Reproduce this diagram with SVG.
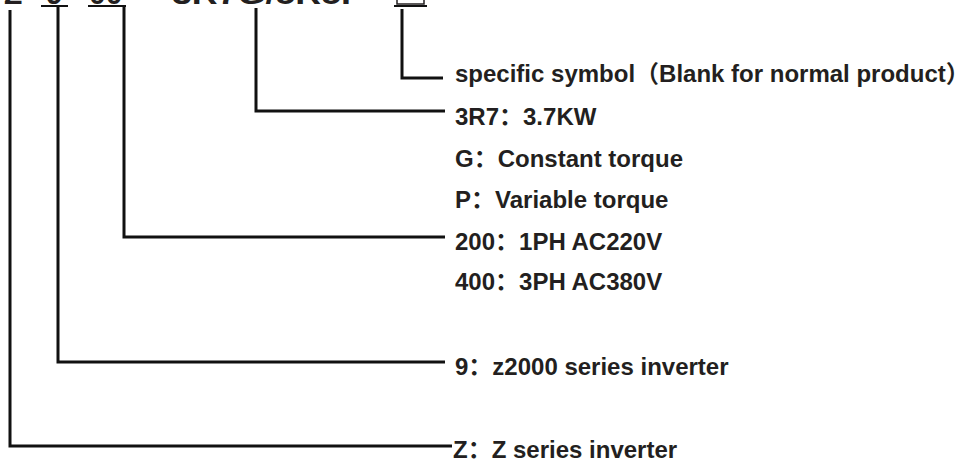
<svg xmlns="http://www.w3.org/2000/svg" width="969" height="463" viewBox="0 0 969 463">
<style>
.lbl{font-family:"Liberation Sans","Noto Sans CJK SC",Arial,sans-serif;font-weight:bold;font-size:24px;fill:#231f20}
.code{font-family:"Liberation Sans","Noto Sans CJK SC",Arial,sans-serif;font-weight:bold;font-size:30px;fill:#231f20}
.con{fill:none;stroke:#111;stroke-width:3;stroke-linejoin:miter}
.ul{stroke:#111;stroke-width:2}
</style>
<rect width="969" height="463" fill="#fff"/>
<g id="code">
  <g id="code-z"><text class="code" x="4" y="4">Z</text></g>
  <g id="code-9"><text class="code" x="46" y="4">9</text><line class="ul" x1="41" y1="6" x2="68" y2="6"/></g>
  <g id="code-00"><text class="code" x="89" y="4">00</text><line class="ul" x1="88" y1="6" x2="126" y2="6"/></g>
  <g id="code-power"><text class="code" x="160" y="4" textLength="205" lengthAdjust="spacingAndGlyphs">-3R7G/5R5P</text></g>
  <g id="code-special"><rect x="397" y="-20" width="27" height="24" fill="none" stroke="#231f20" stroke-width="1.5"/><line class="ul" x1="394" y1="6" x2="427" y2="6"/></g>
</g>
<g id="connectors">
  <path class="con" d="M402,9 V78 H443"/>
  <path class="con" d="M256,8 V111 H445"/>
  <path class="con" d="M124,7 V237 H445"/>
  <path class="con" d="M58,7 V362 H445"/>
  <path class="con" d="M10,10 V446 H452"/>
</g>
<g id="label-special"><text class="lbl" x="455" y="82">specific symbol（Blank for normal product）</text></g>
<g id="label-power"><text class="lbl" x="455" y="125">3R7：3.7KW</text></g>
<g id="label-g"><text class="lbl" x="455" y="167">G：Constant torque</text></g>
<g id="label-p"><text class="lbl" x="455" y="208">P：Variable torque</text></g>
<g id="label-200"><text class="lbl" x="455" y="250">200：1PH AC220V</text></g>
<g id="label-400"><text class="lbl" x="455" y="290">400：3PH AC380V</text></g>
<g id="label-9"><text class="lbl" x="455" y="375">9：z2000 series inverter</text></g>
<g id="label-z"><text class="lbl" x="453" y="458">Z：Z series inverter</text></g>
</svg>
